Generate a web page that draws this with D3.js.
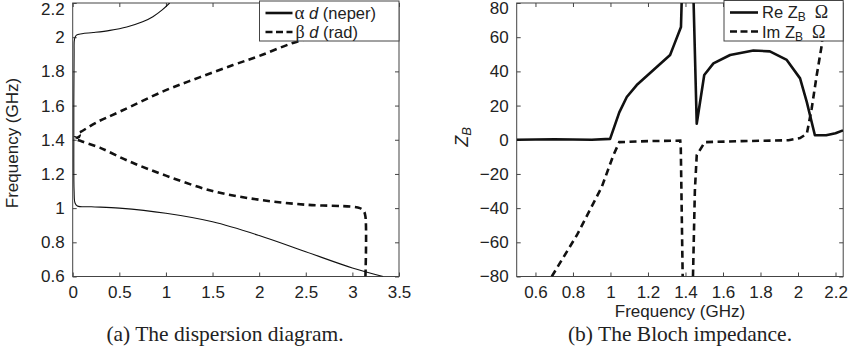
<!DOCTYPE html>
<html>
<head>
<meta charset="utf-8">
<script src="https://cdn.jsdelivr.net/npm/d3@7"></script>
<style>
  body { margin: 0; background: #fff; }
  svg text { font-family: "Liberation Sans", Arial, sans-serif; fill: #222; }
</style>
</head>
<body>
<div id="chart"></div>
<script>
// (a) dispersion diagram: [phase/attenuation per cell, frequency GHz]
const alphaD = [
  [3.33, 0.6], [3.0, 0.65], [2.5, 0.745], [2.0, 0.84], [1.5, 0.92], [1.0, 0.97],
  [0.5, 1.0], [0.2, 1.008], [0.05, 1.013], [0.025, 1.03], [0.015, 1.1], [0.012, 1.4],
  [0.015, 1.9], [0.02, 1.99], [0.04, 2.012], [0.1, 2.02], [0.22, 2.027], [0.4, 2.04],
  [0.58, 2.06], [0.75, 2.09], [0.86, 2.12], [0.96, 2.16], [1.04, 2.2]
];
const betaD = [
  [3.14, 0.6], [3.14, 0.95], [3.12, 0.985], [3.08, 1.0], [3.0, 1.008], [2.5, 1.02],
  [2.0, 1.049], [1.5, 1.1], [1.0, 1.19], [0.6, 1.275], [0.29, 1.354], [0.1, 1.39],
  [0.03, 1.405], [0.02, 1.415], [0.05, 1.412], [0.075, 1.425], [0.055, 1.44], [0.08, 1.445],
  [0.25, 1.5], [0.5, 1.563], [1.0, 1.69], [1.36, 1.765], [1.72, 1.837], [2.0, 1.89],
  [2.36, 1.966], [2.7, 2.02], [3.14, 2.09]
];
const leftXTicks = [0, 0.5, 1, 1.5, 2, 2.5, 3, 3.5];
const leftYTicks = [0.6, 0.8, 1, 1.2, 1.4, 1.6, 1.8, 2, 2.2];

// (b) Bloch impedance: [frequency GHz, ohm]
const reZB = [
  [0.5, 0], [0.7, 0.3], [0.9, 0], [0.998, 0.5], [1.047, 16], [1.087, 25], [1.14, 32],
  [1.229, 40.8], [1.318, 49.6], [1.339, 55.5], [1.376, 66], [1.382, 90], [1.441, 90],
  [1.46, 9.4], [1.50, 37.9], [1.549, 44.7], [1.638, 49.6], [1.762, 52.2], [1.85, 51.7],
  [1.94, 46.7], [2.011, 35.9], [2.047, 22], [2.09, 2.6], [2.15, 2.6], [2.2, 3.8], [2.24, 5.5]
];
const imZB = [
  [0.687, -80], [0.82, -56], [0.953, -27.8], [1.015, -9.2], [1.047, -1.4], [1.2, -0.8],
  [1.372, -0.5], [1.375, -5], [1.385, -80]
];
const imZB2 = [
  [1.44, -80], [1.45, -30], [1.46, -9], [1.503, -1.4], [1.7, -0.8], [1.95, -0.3],
  [2.011, 1], [2.047, 3.5], [2.073, 18.3], [2.1, 37.9], [2.127, 55.5], [2.145, 80]
];
const rightXTicks = [0.6, 0.8, 1, 1.2, 1.4, 1.6, 1.8, 2, 2.2];
const rightYTicks = [-80, -60, -40, -20, 0, 20, 40, 60, 80];

const W = 849, H = 361;
const svg = d3.select('#chart').append('svg')
  .attr('width', W).attr('height', H);

const frameColor = '#444';
const lineColor = '#111';

function drawFrame(g, x, y, xt, yt, w, h, id, topShift) {
  const tickLen = 4;
  g.append('g').attr('transform', `translate(0,${h})`)
    .call(d3.axisBottom(x).tickValues(xt).tickSizeInner(-tickLen).tickSizeOuter(0).tickPadding(9)
      .tickFormat(d => d3.format('~g')(d)));
  g.append('g')
    .call(d3.axisTop(x).tickValues(xt).tickSizeInner(-tickLen).tickSizeOuter(0).tickFormat(''));
  const yAx = g.append('g')
    .call(d3.axisLeft(y).tickValues(yt).tickSizeInner(-tickLen).tickSizeOuter(0).tickPadding(8)
      .tickFormat(d => d3.format('~g')(d)));
  g.append('g').attr('transform', `translate(${w},0)`)
    .call(d3.axisRight(y).tickValues(yt).tickSizeInner(-tickLen).tickSizeOuter(0).tickFormat(''));
  g.selectAll('.domain').remove();
  g.selectAll('.tick line').attr('stroke', frameColor);
  g.selectAll('.tick text').style('font-size', '17px').attr('fill', '#222');
  // keep the top label inside the picture
  yAx.selectAll('.tick text').filter(d => d === yt[yt.length - 1]).attr('dy', `${0.32 + topShift}em`);
  g.append('rect').attr('width', w).attr('height', h)
    .attr('fill', 'none').attr('stroke', frameColor).attr('stroke-width', 1);
  g.append('clipPath').attr('id', id)
    .append('rect').attr('width', w).attr('height', h);
}

// ---------- (a) ----------
const la = {left: 72.7, top: 3, w: 326.3, h: 273.5};
const ga = svg.append('g').attr('transform', `translate(${la.left},${la.top})`);
const xa = d3.scaleLinear().domain([0, 3.5]).range([0, la.w]);
const ya = d3.scaleLinear().domain([0.6, 2.2]).range([la.h, 0]);
drawFrame(ga, xa, ya, leftXTicks, leftYTicks, la.w, la.h, 'clipA', 0.35);

const lineAc = d3.line().x(d => xa(d[0])).y(d => ya(d[1])).curve(d3.curveCatmullRom.alpha(0.5));
const plotA = ga.append('g').attr('clip-path', 'url(#clipA)');
plotA.append('path').datum(alphaD).attr('d', lineAc)
  .attr('fill', 'none').attr('stroke', lineColor).attr('stroke-width', 1.1);
plotA.append('path').datum(betaD).attr('d', lineAc)
  .attr('fill', 'none').attr('stroke', lineColor).attr('stroke-width', 2.6)
  .attr('stroke-dasharray', '7,4.5');

ga.append('text')
  .attr('transform', `translate(${13 - la.left},${143 - la.top}) rotate(-90)`)
  .attr('text-anchor', 'middle').attr('dominant-baseline', 'central')
  .style('font-size', '17px').text('Frequency (GHz)');

// legend (a)
const lga = ga.append('g').attr('transform', `translate(${259.5 - la.left},${-la.top + 1})`);
lga.append('rect').attr('width', 399 - 259.5).attr('height', 40)
  .attr('fill', '#fff').attr('stroke', frameColor).attr('stroke-width', 1);
lga.append('line').attr('x1', 6).attr('x2', 33).attr('y1', 12).attr('y2', 12)
  .attr('stroke', lineColor).attr('stroke-width', 2.6);
lga.append('line').attr('x1', 6).attr('x2', 33).attr('y1', 31).attr('y2', 31)
  .attr('stroke', lineColor).attr('stroke-width', 2.6).attr('stroke-dasharray', '7,3.5');
const ta1 = lga.append('text').attr('x', 35).attr('y', 17.5).style('font-size', '16.5px');
ta1.append('tspan').style('font-family', '"Liberation Serif", serif').style('font-size', '19px').text('α');
ta1.append('tspan').text(' ');
ta1.append('tspan').style('font-style', 'italic').text('d');
ta1.append('tspan').text(' (neper)');
const ta2 = lga.append('text').attr('x', 36).attr('y', 37).style('font-size', '16.5px');
ta2.append('tspan').style('font-family', '"Liberation Serif", serif').style('font-size', '18px').text('β');
ta2.append('tspan').text('  ');
ta2.append('tspan').style('font-style', 'italic').text('d');
ta2.append('tspan').text(' (rad)');

// ---------- (b) ----------
const lb = {left: 516.7, top: 3, w: 326.5, h: 273.5};
const gb = svg.append('g').attr('transform', `translate(${lb.left},${lb.top})`);
const xb = d3.scaleLinear().domain([0.5, 2.241]).range([0, lb.w]);
const yb = d3.scaleLinear().domain([-80, 80]).range([lb.h, 0]);
drawFrame(gb, xb, yb, rightXTicks, rightYTicks, lb.w, lb.h, 'clipB', 0.32);

const lineB = d3.line().x(d => xb(d[0])).y(d => yb(d[1]));
const plotB = gb.append('g').attr('clip-path', 'url(#clipB)');
plotB.append('path').datum(reZB).attr('d', lineB)
  .attr('fill', 'none').attr('stroke', lineColor).attr('stroke-width', 2.6)
  .attr('stroke-linejoin', 'round');
[imZB, imZB2].forEach(seg => {
  plotB.append('path').datum(seg).attr('d', lineB)
    .attr('fill', 'none').attr('stroke', lineColor).attr('stroke-width', 2.6)
    .attr('stroke-dasharray', '7,4.5');
});

gb.append('text')
  .attr('transform', `translate(${462 - lb.left},${137 - lb.top}) rotate(-90)`)
  .attr('text-anchor', 'middle').attr('dominant-baseline', 'central')
  .style('font-size', '18px')
  .call(t => {
    t.append('tspan').style('font-style', 'italic').text('Z');
    t.append('tspan').style('font-style', 'italic').style('font-size', '13px').attr('dy', 4).text('B');
  });

gb.append('text')
  .attr('x', lb.w / 2).attr('y', 317 - lb.top)
  .attr('text-anchor', 'middle')
  .style('font-size', '17px').text('Frequency (GHz)');

// legend (b)
const lgb = gb.append('g').attr('transform', `translate(${724 - lb.left},${-lb.top + 0.5})`);
lgb.append('rect').attr('width', lb.w - (724 - lb.left)).attr('height', 40.5)
  .attr('fill', '#fff').attr('stroke', frameColor).attr('stroke-width', 1);
lgb.append('line').attr('x1', 6).attr('x2', 34).attr('y1', 12).attr('y2', 12)
  .attr('stroke', lineColor).attr('stroke-width', 2.6);
lgb.append('line').attr('x1', 6).attr('x2', 34).attr('y1', 31).attr('y2', 31)
  .attr('stroke', lineColor).attr('stroke-width', 2.6).attr('stroke-dasharray', '7,3.5');
[['Re', 17.5], ['Im', 37]].forEach(([lab, yy]) => {
  const t = lgb.append('text').attr('x', 38).attr('y', yy).style('font-size', '16.5px');
  t.append('tspan').text(lab + ' Z');
  t.append('tspan').style('font-size', '12px').attr('dy', 3).text('B');
  t.append('tspan').attr('dy', -3).attr('dx', 9).style('font-family', '"Liberation Serif", serif')
    .style('font-size', '18px').text('Ω');
});

// captions
svg.append('text').attr('x', 225).attr('y', 341).attr('text-anchor', 'middle')
  .style('font-family', '"Liberation Serif", "Times New Roman", serif').style('font-size', '21.5px')
  .text('(a) The dispersion diagram.');
svg.append('text').attr('x', 680).attr('y', 341).attr('text-anchor', 'middle')
  .style('font-family', '"Liberation Serif", "Times New Roman", serif').style('font-size', '21.5px')
  .text('(b) The Bloch impedance.');
</script>
</body>
</html>
